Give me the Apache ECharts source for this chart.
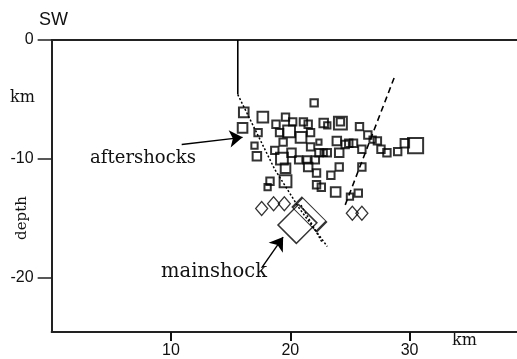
<!DOCTYPE html>
<html><head><meta charset="utf-8">
<script src="https://cdn.jsdelivr.net/npm/echarts@6/dist/echarts.min.js"></script>
<style>html,body{margin:0;padding:0;background:#fff}#c{width:517px;height:359px}</style>
</head><body><div id="c"></div>
<script>
// x: distance (km), y: depth (km, negative), m: relative size class
const aftershocks = [
  [16.1,-6.1,3],[16.0,-7.4,3],[17.3,-7.8,2],[17.7,-6.5,3.5],[17.0,-8.9,1.5],[17.2,-9.8,2.5],
  [22.0,-5.3,2],[18.8,-7.1,2],[19.6,-6.5,2],[20.2,-6.9,2],[19.1,-7.8,2],[19.9,-7.7,4],
  [21.1,-6.9,2],[21.5,-7.1,2],[21.7,-7.8,2],[20.9,-8.2,3.5],[19.4,-8.6,2],[18.7,-9.3,2],
  [20.1,-9.5,2.5],[19.3,-10.0,4],[19.6,-10.8,3],[20.7,-10.1,2],[21.4,-10.1,2],[22.1,-10.1,2],
  [21.5,-10.7,2.5],[22.2,-11.2,2],[21.7,-9.0,2],[22.4,-8.6,1],[22.8,-7.0,2.5],[23.1,-7.2,1.5],
  [24.2,-7.0,4.5],[24.2,-6.9,2],[22.4,-9.5,2],[23.1,-9.5,2],[23.9,-8.5,2.5],[24.6,-8.8,2],
  [25.3,-8.7,2],[24.1,-9.5,2.5],[24.1,-10.7,2],[23.4,-11.4,2],[25.8,-7.3,2],[26.0,-10.7,2],
  [26.5,-8.0,2],[26.9,-8.4,1.5],[27.3,-8.5,2],[26.0,-9.2,2],[27.6,-9.2,2],[28.1,-9.5,2],
  [29.0,-9.4,2],[29.6,-8.7,2.5],[30.5,-8.9,5.5],[22.8,-9.5,1.5],[24.9,-8.7,2],[18.3,-11.9,2],
  [18.1,-12.4,1.5],[19.6,-11.9,4],[22.2,-12.2,2],[22.6,-12.4,2],[23.8,-12.8,3],[25.7,-12.9,2],
  [25.0,-13.2,1.5]
];
const foreshockDiamonds = [[17.6,-14.2],[18.6,-13.8],[19.5,-13.8],[25.2,-14.6],[26.0,-14.6]];
const mainshockRects = [[20.6,-15.5],[21.6,-14.7]];
const faultWestSurface = [[15.6,0],[15.6,-4.6]];
const faultWestDeep = [[15.6,-4.6],[18.7,-10.9],[20.7,-14.1],[23.1,-17.4]];
const faultWestSplay = [[20.9,-13.9],[22.7,-17.1]];
const faultEast = [[28.7,-3.2],[24.6,-13.9]];
const aftershockArrow = [[10.9,-8.8],[16.0,-8.2]];
const mainshockArrow = [[17.6,-19.2],[19.4,-16.6]];
const xTicks = [10,20,30];
const yTicks = [0,-10,-20];

const chart = echarts.init(document.getElementById('c'), null, {renderer:'canvas'});
const sans = 'Liberation Sans';
const axisLine = {show:true, onZero:false, lineStyle:{color:'#222', width:2}};
chart.setOption({
  animation:false,
  backgroundColor:'#fff',
  grid:{left:51.65, right:0, top:40, bottom:26, containLabel:false},
  xAxis:[{
    type:'value', min:0, max:39, position:'bottom',
    axisLine:axisLine,
    axisTick:{show:true, inside:false, length:9, customValues:xTicks, lineStyle:{color:'#111', width:2}},
    axisLabel:{customValues:xTicks, fontFamily:sans, fontSize:16, color:'#111', margin:11},
    splitLine:{show:false}
  },{
    type:'value', min:0, max:39, position:'top',
    axisLine:axisLine, axisTick:{show:false}, axisLabel:{show:false}, splitLine:{show:false}
  }],
  yAxis:{
    type:'value', min:-24.6, max:0,
    axisLine:axisLine,
    axisTick:{show:true, inside:false, length:14, customValues:yTicks, lineStyle:{color:'#222', width:1.5}},
    axisLabel:{customValues:yTicks, fontFamily:sans, fontSize:16, color:'#111', margin:18},
    splitLine:{show:false}
  },
  series:[
    {type:'scatter', data:aftershocks.map(d=>[d[0],d[1],d[2]]), symbol:'rect',
     symbolSize:v=>3+2.2*v[2],
     itemStyle:{color:'rgba(0,0,0,0)', borderColor:'#000', borderWidth:2}, z:5},
    {type:'scatter', data:foreshockDiamonds, symbol:'diamond', symbolSize:[12,14],
     itemStyle:{color:'rgba(0,0,0,0)', borderColor:'#000', borderWidth:1.3}, z:5},
    {type:'scatter', data:[mainshockRects[0]], symbol:'rect', symbolSize:[29,26], symbolRotate:45,
     itemStyle:{color:'rgba(0,0,0,0)', borderColor:'#000', borderWidth:1.5}, z:5},
    {type:'scatter', data:[mainshockRects[1]], symbol:'rect', symbolSize:[34,14], symbolRotate:-45,
     itemStyle:{color:'rgba(0,0,0,0)', borderColor:'#000', borderWidth:1.5}, z:5},
    {type:'line', data:faultWestSurface, showSymbol:false, symbol:'none',
     lineStyle:{color:'#000', width:1.6}},
    {type:'lines', coordinateSystem:'cartesian2d', polyline:true,
     data:[{coords:faultWestDeep}], symbol:['none','arrow'], symbolSize:10,
     lineStyle:{color:'#000', width:1.5, type:[2,2], opacity:1}},
    {type:'lines', coordinateSystem:'cartesian2d', polyline:true,
     data:[{coords:faultWestSplay}], symbol:['none','none'],
     lineStyle:{color:'#000', width:1.4, type:[2,2], opacity:1}},
    {type:'lines', coordinateSystem:'cartesian2d', polyline:true,
     data:[{coords:faultEast}], symbol:['none','none'],
     lineStyle:{color:'#000', width:1.6, type:[6,4], opacity:1}},
    {type:'lines', coordinateSystem:'cartesian2d',
     data:[{coords:aftershockArrow},{coords:mainshockArrow}], symbol:['none','arrow'], symbolSize:[10,13],
     lineStyle:{color:'#000', width:1.4, opacity:1}}
  ],
  graphic:[
    {type:'text', left:39, top:11, style:{text:'SW', font:'18px "Liberation Sans"', fill:'#111'}},
    {type:'text', left:10, top:90, style:{text:'km', font:'16px "DejaVu Serif"', fill:'#111'}},
    {type:'text', x:22, y:218, rotation:Math.PI/2, style:{text:'depth', font:'15px "DejaVu Serif"', fill:'#111', align:'center', verticalAlign:'middle'}},
    {type:'text', left:452, top:333, style:{text:'km', font:'16px "DejaVu Serif"', fill:'#111'}},
    {type:'text', x:143, y:158, style:{text:'aftershocks', font:'18px "DejaVu Serif"', fill:'#111', align:'center', verticalAlign:'middle'}},
    {type:'text', x:214, y:272, style:{text:'mainshock', font:'19.5px "DejaVu Serif"', fill:'#111', align:'center', verticalAlign:'middle'}}
  ]
});
</script></body></html>
